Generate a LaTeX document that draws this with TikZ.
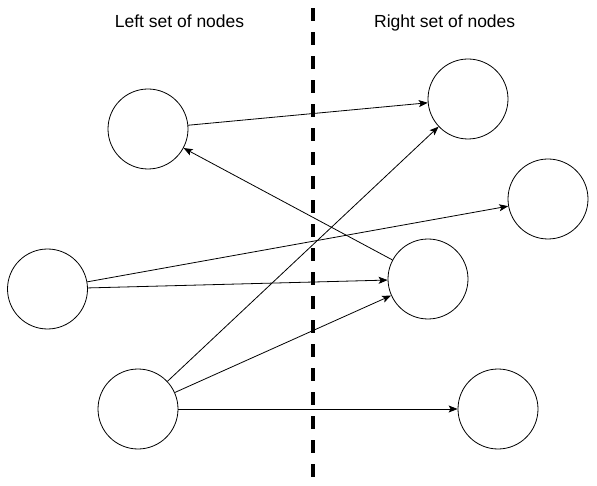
\documentclass[tikz,border=0pt]{standalone}
\usepackage{fontspec}
\setmainfont{Liberation Sans}
\usetikzlibrary{arrows.meta}
\begin{document}
\begin{tikzpicture}[x=1pt,y=-1pt,
  vnode/.style={circle,draw=black,line width=0.8pt,minimum size=80pt,inner sep=0pt},
  edge/.style={draw=black,line width=0.8pt,-{Stealth[length=9pt,width=7pt,inset=2pt]}},
  title/.style={font=\fontsize{17.5}{20}\selectfont,anchor=base,inner sep=0pt},
  divider/.style={draw=black,line width=4pt,dash pattern=on 12.4pt off 11.6pt}]
\useasboundingbox (0,0) rectangle (597,486);
\node[title] (lt) at (179.5,27.3) {Left set of nodes};
\node[title] (rt) at (444.7,27.3) {Right set of nodes};
\coordinate (dtop) at (313,8.3);
\coordinate (dbot) at (313,476.7);
\draw[divider] (dtop) -- (dbot);
\node[vnode] (L1) at (148,129) {};
\node[vnode] (L2) at (47.5,289) {};
\node[vnode] (L3) at (138,409) {};
\node[vnode] (R1) at (468,99) {};
\node[vnode] (R2) at (548,199) {};
\node[vnode] (R3) at (428,279) {};
\node[vnode] (R4) at (498,409) {};
\draw[edge] (L1) -- (R1);
\draw[edge] (R3) -- (L1);
\draw[edge] (L2) -- (R2);
\draw[edge] (L2) -- (R3);
\draw[edge] (L3) -- (R1);
\draw[edge] (L3) -- (R3);
\draw[edge] (L3) -- (R4);
\end{tikzpicture}
\end{document}
